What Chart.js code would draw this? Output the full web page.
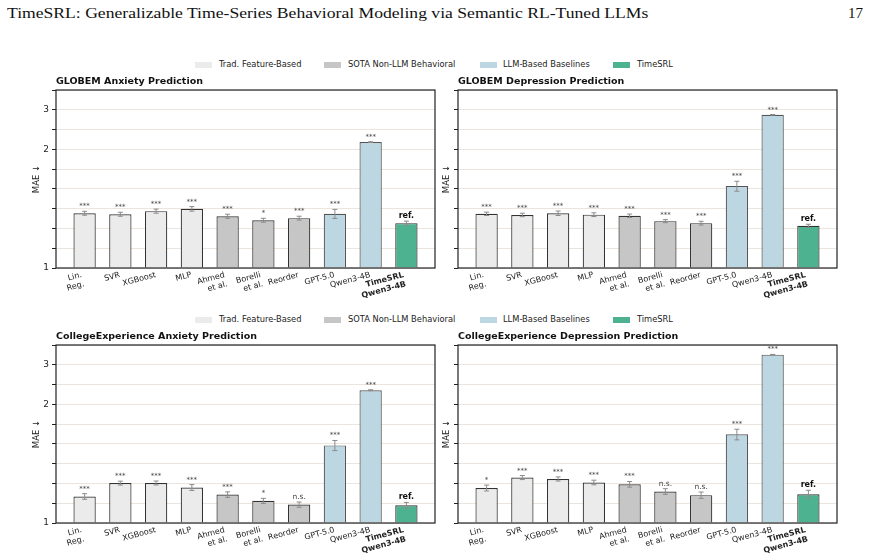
<!DOCTYPE html>
<html>
<head>
<meta charset="utf-8">
<script src="https://cdn.jsdelivr.net/npm/chart.js@4.4.1/dist/chart.umd.min.js"></script>
<style>
  body { margin: 0; background: #fff; width: 870px; height: 559px; position: relative; overflow: hidden; }
  .box { position: absolute; }
  .header { position: absolute; top: 5px; left: 7px; font-family: "Liberation Serif", serif; font-size: 15px; color: #111; white-space: nowrap; transform-origin: left top; }
  .pagenum { position: absolute; top: 5px; left: 848px; font-family: "Liberation Serif", serif; font-size: 15px; color: #111; }
  .legend { position: absolute; font-family: "DejaVu Sans", sans-serif; font-size: 8.3px; color: #222; white-space: nowrap; }
  .patch { position: absolute; width: 17px; height: 6px; }
</style>
</head>
<body>
<div class="header" id="header">TimeSRL: Generalizable Time-Series Behavioral Modeling via Semantic RL-Tuned LLMs</div>
<div class="pagenum">17</div>
<div id="legends"></div>

<div class="box" style="left:0px;top:70px"><canvas id="c1" width="440" height="230"></canvas></div>
<div class="box" style="left:440px;top:70px"><canvas id="c2" width="430" height="230"></canvas></div>
<div class="box" style="left:0px;top:325px"><canvas id="c3" width="440" height="234"></canvas></div>
<div class="box" style="left:440px;top:325px"><canvas id="c4" width="430" height="234"></canvas></div>

<script>
//Data
const xLabels = [['Lin.', 'Reg.'], 'SVR', 'XGBoost', 'MLP', ['Ahmed', 'et al.'], ['Borelli', 'et al.'], 'Reorder', 'GPT-5.0', 'Qwen3-4B', ['TimeSRL', 'Qwen3-4B']];
const groupOf = [0, 0, 0, 0, 1, 1, 1, 2, 2, 3];
const groupNames = ['Trad. Feature-Based', 'SOTA Non-LLM Behavioral', 'LLM-Based Baselines', 'TimeSRL'];
const groupColors = ['#ebebeb', '#c6c6c6', '#bcd6e2', '#4db28f'];
const groupBorders = ['#333333', '#333333', '#555555', '#333333'];

const yTickValues = [1, 1.0909, 1.2, 1.3333, 1.5, 1.7143, 2, 2.4, 3, 4];
const yTickLabels = ['1', '', '', '', '', '', '2', '', '3', ''];

const globemAnxiety = [1.300, 1.293, 1.315, 1.332, 1.279, 1.252, 1.266, 1.296, 2.13, 1.233];
const globemAnxietyErr = [0.014, 0.014, 0.015, 0.017, 0.014, 0.013, 0.013, 0.032, 0.008, 0.013];
const globemAnxietySig = ['***', '***', '***', '***', '***', '*', '***', '***', '***', 'ref.'];

const globemDepression = [1.296, 1.288, 1.300, 1.290, 1.282, 1.246, 1.233, 1.527, 2.82, 1.216];
const globemDepressionErr = [0.012, 0.012, 0.016, 0.013, 0.012, 0.010, 0.012, 0.049, 0.010, 0.010];
const globemDepressionSig = ['***', '***', '***', '***', '***', '***', '***', '***', '***', 'ref.'];

const collegeAnxiety = [1.126, 1.202, 1.203, 1.176, 1.136, 1.103, 1.084, 1.486, 2.27, 1.081];
const collegeAnxietyErr = [0.015, 0.012, 0.012, 0.017, 0.015, 0.013, 0.013, 0.047, 0.010, 0.014];
const collegeAnxietySig = ['***', '***', '***', '***', '***', '*', 'n.s.', '***', '***', 'ref.'];

const collegeDepression = [1.173, 1.237, 1.228, 1.206, 1.195, 1.153, 1.133, 1.596, 3.44, 1.138];
const collegeDepressionErr = [0.017, 0.013, 0.013, 0.014, 0.017, 0.016, 0.017, 0.057, 0.012, 0.022];
const collegeDepressionSig = ['*', '***', '***', '***', '***', 'n.s.', 'n.s.', '***', '***', 'ref.'];

const FONT = '"DejaVu Sans", sans-serif';
const LABEL_ANGLE = 15 * Math.PI / 180;

//header fit
let header = document.getElementById('header');
header.style.transform = 'scaleX(' + (641 / header.offsetWidth) + ')';

//legends (one row above each pair of charts)
let legendHtml = '';
const patchX = [195, 324, 480, 613];
const textX = [219, 348, 503, 637];
[65, 320].forEach(y => {
    for (let g = 0; g < 4; g++) {
        legendHtml += '<div class="patch" style="left:' + patchX[g] + 'px;top:' + (y - 3) + 'px;background:' + groupColors[g] + '"></div>';
        legendHtml += '<div class="legend" style="left:' + textX[g] + 'px;top:' + (y - 6) + 'px">' + groupNames[g] + '</div>';
    }
});
document.getElementById('legends').innerHTML = legendHtml;

//reciprocal y scale (1/x spacing, like the reference)
class ReciprocalScale extends Chart.LinearScale {
    buildTicks() {
        return yTickValues.map(v => ({value: v}));
    }
    configure() {
        super.configure();
        this._rMin = 1 / this.min;
        this._rMax = 1 / this.max;
    }
    getPixelForValue(value) {
        if (value <= this.min) return this.getPixelForDecimal(0);
        return this.getPixelForDecimal((this._rMin - 1 / value) / (this._rMin - this._rMax));
    }
    getValueForPixel(pixel) {
        let d = this.getDecimalForPixel(pixel);
        return 1 / (this._rMin - d * (this._rMin - this._rMax));
    }
}
ReciprocalScale.id = 'reciprocal';
ReciprocalScale.defaults = Chart.LinearScale.defaults;
Chart.register(ReciprocalScale);

//error bars, significance marks, rotated x labels, title, frame
const decorations = {
    id: 'decorations',
    afterDatasetsDraw(chart) {
        let ctx = chart.ctx;
        let area = chart.chartArea;
        let opts = chart.options.plugins.decorations;
        let xScale = chart.scales.x;
        let yScale = chart.scales.y;
        let meta = chart.getDatasetMeta(0);
        ctx.save();
        meta.data.forEach((bar, i) => {
            let v = opts.values[i];
            let e = opts.errors[i];
            let top = yScale.getPixelForValue(v + e);
            let bottom = yScale.getPixelForValue(v - e);
            ctx.strokeStyle = '#8c8c8c';
            ctx.lineWidth = 1;
            ctx.beginPath();
            ctx.moveTo(bar.x, top);
            ctx.lineTo(bar.x, bottom);
            ctx.moveTo(bar.x - 2.5, top);
            ctx.lineTo(bar.x + 2.5, top);
            ctx.moveTo(bar.x - 2.5, bottom);
            ctx.lineTo(bar.x + 2.5, bottom);
            ctx.stroke();

            let sig = opts.sig[i];
            ctx.textAlign = 'center';
            ctx.textBaseline = 'alphabetic';
            if (sig === 'ref.') {
                ctx.font = 'bold 8px ' + FONT;
                ctx.fillStyle = '#111';
            } else {
                ctx.font = (sig === 'n.s.' ? '7.5px ' : '7px ') + FONT;
                ctx.fillStyle = '#444';
            }
            ctx.fillText(sig, bar.x, top - 3);
        });

        //x tick labels, rotated and right-aligned at the tick (matplotlib style)
        xLabels.forEach((label, i) => {
            let lines = Array.isArray(label) ? label : [label];
            let lineH = 9.5;
            let h = lines.length * lineH;
            let x = xScale.getPixelForValue(i);
            ctx.save();
            ctx.translate(x - h * Math.sin(LABEL_ANGLE) + 1, area.bottom + 3);
            ctx.rotate(-LABEL_ANGLE);
            ctx.font = (i === 9 ? 'bold ' : '') + '8px ' + FONT;
            ctx.fillStyle = '#222';
            ctx.textAlign = 'right';
            ctx.textBaseline = 'top';
            lines.forEach((line, j) => ctx.fillText(line, 0, j * lineH));
            ctx.restore();
        });

        ctx.strokeStyle = '#222';
        ctx.lineWidth = 1.2;
        ctx.strokeRect(area.left, area.top, area.right - area.left, area.bottom - area.top);

        ctx.font = 'bold 9.5px ' + FONT;
        ctx.fillStyle = '#111';
        ctx.textAlign = 'left';
        ctx.textBaseline = 'alphabetic';
        ctx.fillText(opts.title, area.left, area.top - 6);
        ctx.restore();
    }
};

function makeChart(canvasId, title, values, errors, sig, isLeft, bottomRow) {
    let config = {
        type: 'bar',
        data: {
            datasets: [{
                data: values.map((v, i) => ({x: i, y: v})),
                backgroundColor: groupOf.map(g => groupColors[g]),
                borderColor: groupOf.map(g => groupBorders[g]),
                borderWidth: 1.2,
                base: 1,
                barPercentage: 0.78,
                categoryPercentage: 0.8
            }]
        },
        options: {
            responsive: false,
            animation: false,
            layout: {
                padding: {top: 20, right: isLeft ? 5 : 33, left: 0, bottom: 0}
            },
            plugins: {
                legend: {display: false},
                tooltip: {enabled: false},
                decorations: {title: title, values: values, errors: errors, sig: sig}
            },
            scales: {
                x: {
                    type: 'linear',
                    min: -0.8,
                    max: 9.8,
                    offset: false,
                    grid: {display: false, drawTicks: false, offset: false},
                    border: {display: false},
                    afterBuildTicks: s => { s.ticks = xLabels.map((l, i) => ({value: i})); },
                    afterFit: s => { s.height = bottomRow ? 36 : 32; },
                    ticks: {display: false}
                },
                y: {
                    type: 'reciprocal',
                    min: 1,
                    max: 4,
                    border: {display: false},
                    grid: {color: '#ebe5dd', lineWidth: 1, tickColor: '#222', tickLength: 4},
                    afterFit: s => { s.width = isLeft ? 56 : 18; },
                    ticks: {
                        autoSkip: false,
                        padding: 3,
                        color: '#222',
                        font: {family: FONT, size: 9},
                        callback: (v, i) => isLeft ? yTickLabels[i] : ''
                    },
                    title: {
                        display: true,
                        text: 'MAE ↓',
                        color: '#222',
                        font: {family: FONT, size: 8.5},
                        padding: {top: isLeft ? 32 : 2, bottom: 0}
                    }
                }
            }
        },
        plugins: [decorations]
    };
    return new Chart(document.getElementById(canvasId).getContext('2d'), config);
}

makeChart('c1', 'GLOBEM Anxiety Prediction', globemAnxiety, globemAnxietyErr, globemAnxietySig, true, false);
makeChart('c2', 'GLOBEM Depression Prediction', globemDepression, globemDepressionErr, globemDepressionSig, false, false);
makeChart('c3', 'CollegeExperience Anxiety Prediction', collegeAnxiety, collegeAnxietyErr, collegeAnxietySig, true, true);
makeChart('c4', 'CollegeExperience Depression Prediction', collegeDepression, collegeDepressionErr, collegeDepressionSig, false, true);
</script>
</body>
</html>
